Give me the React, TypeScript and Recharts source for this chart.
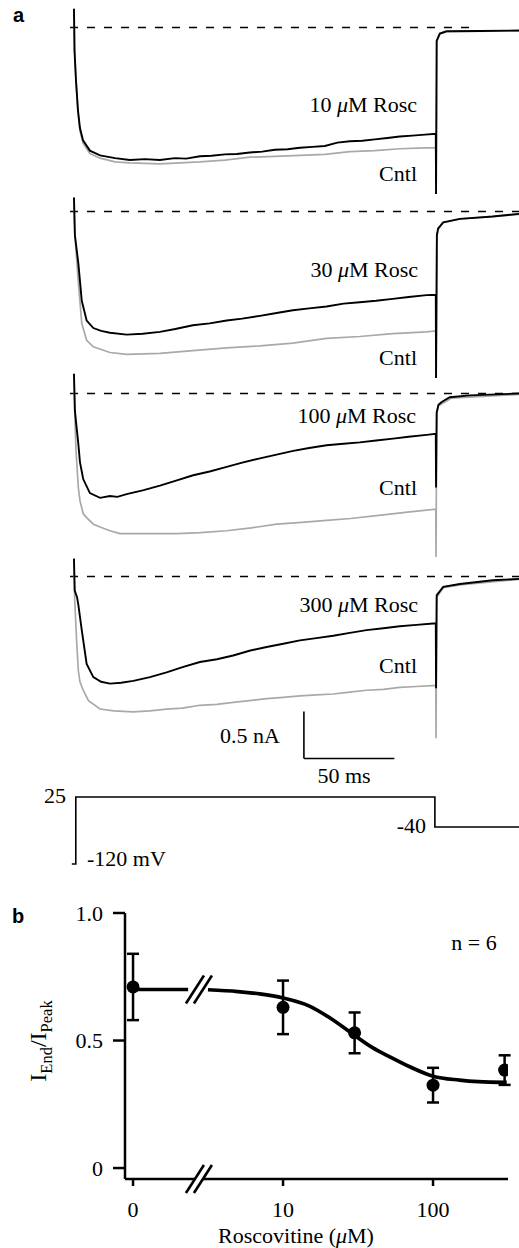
import React from 'react';
import {
  LineChart,
  ComposedChart,
  Line,
  Scatter,
  ErrorBar,
  XAxis,
  YAxis,
  ReferenceLine,
  ReferenceDot,
} from 'recharts';

// ---- panel a: current traces (t in ms, i in nA) ----
const rosc10 = [
  { t: 0, i: 0.2 }, { t: 0.3, i: -0.245 }, { t: 1.1, i: -0.56 }, { t: 2.2, i: -0.88 },
  { t: 3.3, i: -1.07 }, { t: 5, i: -1.2 }, { t: 8.8, i: -1.31 }, { t: 14.4, i: -1.36 },
  { t: 22.7, i: -1.39 }, { t: 30.9, i: -1.41 }, { t: 39.2, i: -1.4 }, { t: 47.5, i: -1.41 },
  { t: 55.8, i: -1.39 }, { t: 62, i: -1.395 }, { t: 69.6, i: -1.37 }, { t: 76, i: -1.365 },
  { t: 83.4, i: -1.35 }, { t: 90, i: -1.345 }, { t: 97.2, i: -1.33 }, { t: 104, i: -1.32 },
  { t: 111, i: -1.3 }, { t: 118, i: -1.295 }, { t: 124.9, i: -1.28 }, { t: 131.8, i: -1.27 },
  { t: 138.7, i: -1.26 }, { t: 145.6, i: -1.225 }, { t: 152.5, i: -1.21 }, { t: 159.4, i: -1.205 },
  { t: 166.3, i: -1.19 }, { t: 173.2, i: -1.175 }, { t: 180.1, i: -1.16 }, { t: 187, i: -1.15 },
  { t: 194, i: -1.14 }, { t: 200, i: -1.13 }, { t: 200.15, i: -1.77 }, { t: 200.5, i: -0.14 },
  { t: 202.2, i: -0.064 }, { t: 205.9, i: -0.04 }, { t: 224.3, i: -0.037 }, { t: 246, i: -0.032 },
];
const cntl10 = [
  { t: 0, i: 0.2 }, { t: 0.3, i: -0.245 }, { t: 1.1, i: -0.56 }, { t: 2.2, i: -0.9 },
  { t: 3.3, i: -1.1 }, { t: 5, i: -1.23 }, { t: 8.8, i: -1.34 }, { t: 14.4, i: -1.39 },
  { t: 22.7, i: -1.43 }, { t: 30.9, i: -1.44 }, { t: 47.5, i: -1.45 }, { t: 69.6, i: -1.43 },
  { t: 83.4, i: -1.41 }, { t: 97.2, i: -1.38 }, { t: 111, i: -1.37 }, { t: 124.9, i: -1.36 },
  { t: 138.7, i: -1.35 }, { t: 152.5, i: -1.32 }, { t: 166.3, i: -1.31 }, { t: 180.1, i: -1.29 },
  { t: 194, i: -1.28 }, { t: 200, i: -1.28 }, { t: 200.15, i: -1.77 }, { t: 200.5, i: -0.15 },
  { t: 202.2, i: -0.07 }, { t: 205.9, i: -0.045 }, { t: 246, i: -0.035 },
];
const rosc30 = [
  { t: 0, i: 0.15 }, { t: 0.5, i: -0.25 }, { t: 2.4, i: -0.55 }, { t: 4.3, i: -0.95 },
  { t: 7, i: -1.16 }, { t: 10.7, i: -1.24 }, { t: 15, i: -1.27 }, { t: 19.9, i: -1.29 },
  { t: 29.1, i: -1.31 }, { t: 38, i: -1.3 }, { t: 47.5, i: -1.28 }, { t: 56, i: -1.25 },
  { t: 65.7, i: -1.21 }, { t: 75, i: -1.19 }, { t: 84.4, i: -1.16 }, { t: 93, i: -1.14 },
  { t: 102.8, i: -1.11 }, { t: 112, i: -1.08 }, { t: 121, i: -1.05 }, { t: 130, i: -1.03 },
  { t: 139.6, i: -1.01 }, { t: 149, i: -0.98 }, { t: 158, i: -0.965 }, { t: 167, i: -0.95 },
  { t: 176.2, i: -0.93 }, { t: 185, i: -0.91 }, { t: 194.9, i: -0.89 }, { t: 200, i: -0.886 },
  { t: 200.15, i: -1.77 }, { t: 200.6, i: -0.25 }, { t: 201.3, i: -0.18 }, { t: 204.1, i: -0.115 },
  { t: 213.3, i: -0.078 }, { t: 231.5, i: -0.053 }, { t: 246, i: -0.025 },
];
const cntl30 = [
  { t: 0, i: 0.15 }, { t: 0.5, i: -0.25 }, { t: 2.4, i: -0.75 }, { t: 4.3, i: -1.19 },
  { t: 7, i: -1.37 }, { t: 10.7, i: -1.44 }, { t: 19.9, i: -1.5 }, { t: 29.1, i: -1.52 },
  { t: 47.5, i: -1.51 }, { t: 65.7, i: -1.48 }, { t: 84.4, i: -1.45 }, { t: 102.8, i: -1.43 },
  { t: 121, i: -1.4 }, { t: 139.6, i: -1.35 }, { t: 158, i: -1.33 }, { t: 176.2, i: -1.3 },
  { t: 194.9, i: -1.28 }, { t: 200, i: -1.27 }, { t: 200.15, i: -1.77 }, { t: 200.6, i: -0.27 },
  { t: 201.3, i: -0.19 }, { t: 204.1, i: -0.12 }, { t: 213.3, i: -0.08 }, { t: 246, i: -0.03 },
];
const rosc100 = [
  { t: 0, i: 0.21 }, { t: 0.5, i: -0.18 }, { t: 1.5, i: -0.37 }, { t: 2.4, i: -0.535 },
  { t: 3.3, i: -0.73 }, { t: 5.1, i: -0.91 }, { t: 8.8, i: -1.06 }, { t: 14.4, i: -1.11 },
  { t: 19.9, i: -1.09 }, { t: 24, i: -1.1 }, { t: 29.1, i: -1.07 }, { t: 38, i: -1.03 },
  { t: 47.5, i: -0.98 }, { t: 56, i: -0.93 }, { t: 65.9, i: -0.87 }, { t: 75, i: -0.83 },
  { t: 84.4, i: -0.78 }, { t: 93, i: -0.735 }, { t: 102.8, i: -0.69 }, { t: 112, i: -0.65 },
  { t: 121.2, i: -0.61 }, { t: 130, i: -0.58 }, { t: 139.6, i: -0.55 }, { t: 149, i: -0.535 },
  { t: 158, i: -0.52 }, { t: 167, i: -0.5 }, { t: 176.4, i: -0.48 }, { t: 185, i: -0.46 },
  { t: 194.9, i: -0.44 }, { t: 200, i: -0.43 }, { t: 200.15, i: -1.0 }, { t: 200.5, i: -0.2 },
  { t: 201.5, i: -0.12 }, { t: 203.1, i: -0.093 }, { t: 207.7, i: -0.04 }, { t: 218.8, i: -0.02 },
  { t: 246, i: 0 },
];
const cntl100 = [
  { t: 0, i: 0.21 }, { t: 0.5, i: -0.25 }, { t: 1.1, i: -0.6 }, { t: 2.4, i: -1.0 },
  { t: 3.3, i: -1.14 }, { t: 5.1, i: -1.28 }, { t: 7, i: -1.32 }, { t: 10.7, i: -1.39 },
  { t: 14.4, i: -1.42 }, { t: 19.9, i: -1.46 }, { t: 25.4, i: -1.49 }, { t: 38.3, i: -1.49 },
  { t: 56.7, i: -1.49 }, { t: 70, i: -1.48 }, { t: 84.4, i: -1.46 }, { t: 98, i: -1.43 },
  { t: 112, i: -1.39 }, { t: 126, i: -1.37 }, { t: 139.6, i: -1.35 }, { t: 153, i: -1.33 },
  { t: 167.2, i: -1.3 }, { t: 185.6, i: -1.26 }, { t: 200, i: -1.23 }, { t: 200.15, i: -1.74 },
  { t: 200.5, i: -0.22 }, { t: 201.5, i: -0.13 }, { t: 204.1, i: -0.1 }, { t: 208.5, i: -0.05 },
  { t: 246, i: -0.01 },
];
const rosc300 = [
  { t: 0, i: 0.19 }, { t: 0.4, i: -0.15 }, { t: 1.7, i: -0.22 }, { t: 2.4, i: -0.3 },
  { t: 4.3, i: -0.57 }, { t: 7, i: -0.93 }, { t: 10.7, i: -1.07 }, { t: 15, i: -1.12 },
  { t: 19.9, i: -1.14 }, { t: 26, i: -1.13 }, { t: 32.8, i: -1.11 }, { t: 42, i: -1.07 },
  { t: 51.2, i: -1.02 }, { t: 60, i: -0.965 }, { t: 69.6, i: -0.91 }, { t: 79, i: -0.88 },
  { t: 88, i: -0.84 }, { t: 97, i: -0.79 }, { t: 106.5, i: -0.75 }, { t: 115.7, i: -0.715 },
  { t: 124.9, i: -0.68 }, { t: 134, i: -0.655 }, { t: 143.3, i: -0.63 }, { t: 152.5, i: -0.6 },
  { t: 161.7, i: -0.57 }, { t: 171, i: -0.55 }, { t: 180.1, i: -0.53 }, { t: 189.3, i: -0.515 },
  { t: 198.5, i: -0.5 }, { t: 200, i: -0.5 }, { t: 200.15, i: -1.19 }, { t: 200.5, i: -0.2 },
  { t: 201.3, i: -0.18 }, { t: 204.1, i: -0.11 }, { t: 213.3, i: -0.08 }, { t: 231.5, i: -0.04 },
  { t: 246, i: -0.025 },
];
const cntl300 = [
  { t: 0, i: 0.19 }, { t: 0.4, i: -0.25 }, { t: 1.5, i: -0.7 }, { t: 2.4, i: -1.0 },
  { t: 3.3, i: -1.12 }, { t: 5.1, i: -1.21 }, { t: 8, i: -1.32 }, { t: 14.4, i: -1.41 },
  { t: 22, i: -1.43 }, { t: 32.8, i: -1.44 }, { t: 42, i: -1.43 }, { t: 51.2, i: -1.41 },
  { t: 60, i: -1.4 }, { t: 69.6, i: -1.37 }, { t: 79, i: -1.36 }, { t: 88, i: -1.34 },
  { t: 97, i: -1.32 }, { t: 106.5, i: -1.3 }, { t: 115.7, i: -1.285 }, { t: 124.9, i: -1.27 },
  { t: 134, i: -1.26 }, { t: 143.3, i: -1.25 }, { t: 152.5, i: -1.23 }, { t: 161.7, i: -1.21 },
  { t: 171, i: -1.2 }, { t: 180.1, i: -1.18 }, { t: 189.3, i: -1.17 }, { t: 198.5, i: -1.16 },
  { t: 200, i: -1.16 }, { t: 200.15, i: -1.72 }, { t: 200.5, i: -0.22 }, { t: 201.3, i: -0.2 },
  { t: 204.1, i: -0.12 }, { t: 213.3, i: -0.09 }, { t: 246, i: -0.03 },
];

// voltage protocol (mV)
const protocol = [
  { t: -1.2, v: -120 }, { t: 1, v: -120 }, { t: 1, v: 25 },
  { t: 199.5, v: 25 }, { t: 199.5, v: -40 }, { t: 246, v: -40 },
];

// ---- panel b: I_End / I_Peak vs roscovitine (0 plotted at 1) ----
const meanPoints = [
  { c: 1, r: 0.71, err: 0.13 },
  { c: 10, r: 0.63, err: 0.105 },
  { c: 30, r: 0.53, err: 0.08 },
  { c: 100, r: 0.325, err: 0.068 },
  { c: 300, r: 0.384, err: 0.058 },
];
const fitCurve = [
  { c: 1, r: 0.7 }, { c: 1.6, r: 0.7 }, { c: 2.33, r: 0.7 }, { c: 2.75, r: null },
  { c: 3.16, r: 0.699 }, { c: 5, r: 0.692 }, { c: 7, r: 0.683 }, { c: 10, r: 0.667 },
  { c: 15, r: 0.635 }, { c: 20, r: 0.593 }, { c: 30, r: 0.52 }, { c: 40, r: 0.47 },
  { c: 50, r: 0.44 }, { c: 70, r: 0.397 }, { c: 100, r: 0.36 }, { c: 150, r: 0.345 },
  { c: 200, r: 0.339 }, { c: 310, r: 0.336 },
];
const yTicks = [0, 0.5, 1];
const xTicks = [1, 10, 100];

const SERIF = '"Liberation Serif", "Times New Roman", serif';
const PX_PER_NA = 94;
const I_MIN = -2;
const I_MAX = 0.25;
const T_DOMAIN: [number, number] = [-2.2, 246];

const TracePanel = ({ baseY, rosc, cntl, dashEnd, children }: any) => (
  <div style={{ position: 'absolute', left: 0, top: baseY - I_MAX * PX_PER_NA }}>
    <LineChart
      width={519}
      height={(I_MAX - I_MIN) * PX_PER_NA}
      margin={{ top: 0, right: 0, bottom: 0, left: 70 }}
    >
      <XAxis type="number" dataKey="t" domain={T_DOMAIN} hide allowDataOverflow />
      <YAxis type="number" dataKey="i" domain={[I_MIN, I_MAX]} hide allowDataOverflow />
      <ReferenceLine
        segment={[{ x: -2.2, y: 0 }, { x: dashEnd, y: 0 }]}
        stroke="#000"
        strokeWidth={1.6}
        strokeDasharray="8 9"
      />
      <Line data={cntl} dataKey="i" type="linear" stroke="#a9a9a9" strokeWidth={1.7} dot={false} isAnimationActive={false} />
      <Line data={rosc} dataKey="i" type="linear" stroke="#000" strokeWidth={1.9} dot={false} isAnimationActive={false} />
      {children}
    </LineChart>
  </div>
);

const BreakMark = (props: any) => {
  const { cx, cy } = props;
  return (
    <g>
      <polygon
        points={`${cx - 13},${cy + 14} ${cx + 5},${cy - 14} ${cx + 13},${cy - 14} ${cx - 5},${cy + 14}`}
        fill="#fff"
      />
      <line x1={cx - 13} y1={cy + 14} x2={cx + 5} y2={cy - 14} stroke="#000" strokeWidth={2.6} />
      <line x1={cx - 5} y1={cy + 14} x2={cx + 13} y2={cy - 14} stroke="#000" strokeWidth={2.6} />
    </g>
  );
};

const MeanDot = (props: any) => <circle cx={props.cx} cy={props.cy} r={6.5} fill="#000" />;

const Mu = () => <tspan fontStyle="italic">μ</tspan>;

const App = () => {
  return (
    <div style={{ position: 'absolute', left: 0, top: 0, width: 519, height: 1248, background: '#fff' }}>
      <TracePanel baseY={27} rosc={rosc10} cntl={cntl10} dashEnd={222} />
      <TracePanel baseY={211} rosc={rosc30} cntl={cntl30} dashEnd={246} />
      <TracePanel baseY={393} rosc={rosc100} cntl={cntl100} dashEnd={246} />
      <TracePanel baseY={576} rosc={rosc300} cntl={cntl300} dashEnd={246}>
        <ReferenceLine segment={[{ x: 127.1, y: -1.936 }, { x: 127.1, y: -1.436 }]} stroke="#000" strokeWidth={1.6} />
        <ReferenceLine segment={[{ x: 127.1, y: -1.936 }, { x: 177.1, y: -1.936 }]} stroke="#000" strokeWidth={1.6} />
      </TracePanel>

      <div style={{ position: 'absolute', left: 0, top: 790 }}>
        <LineChart width={519} height={80} margin={{ top: 0, right: 0, bottom: 0, left: 70 }}>
          <XAxis type="number" dataKey="t" domain={T_DOMAIN} hide allowDataOverflow />
          <YAxis type="number" dataKey="v" domain={[-133, 40]} hide allowDataOverflow />
          <Line data={protocol} dataKey="v" type="linear" stroke="#000" strokeWidth={1.6} dot={false} isAnimationActive={false} />
        </LineChart>
      </div>

      <div style={{ position: 'absolute', left: 0, top: 900 }}>
        <ComposedChart width={519} height={340} margin={{ top: 13, right: 11, bottom: 21, left: 65 }}>
          <XAxis
            type="number"
            dataKey="c"
            scale="log"
            domain={[0.884, 316]}
            allowDataOverflow
            ticks={xTicks}
            tickFormatter={(v: number) => (v === 1 ? '0' : String(v))}
            height={40}
            tickSize={7}
            tickMargin={15}
            axisLine={{ stroke: '#000', strokeWidth: 2.5 }}
            tickLine={{ stroke: '#000', strokeWidth: 2.5 }}
            tick={{ fill: '#000', fontSize: 22, fontFamily: SERIF }}
          />
          <YAxis
            type="number"
            dataKey="r"
            domain={[-0.043, 1]}
            allowDataOverflow
            ticks={yTicks}
            tickFormatter={(v: number) => (v === 0 ? '0' : v.toFixed(1))}
            width={60}
            tickSize={12}
            tickMargin={10}
            axisLine={{ stroke: '#000', strokeWidth: 2.5 }}
            tickLine={{ stroke: '#000', strokeWidth: 2.5 }}
            tick={{ fill: '#000', fontSize: 22, fontFamily: SERIF }}
          />
          <Line data={fitCurve} dataKey="r" type="monotone" stroke="#000" strokeWidth={3.7} dot={false} isAnimationActive={false} />
          <Scatter data={meanPoints} dataKey="r" shape={MeanDot} isAnimationActive={false}>
            <ErrorBar dataKey="err" direction="y" width={6} stroke="#000" strokeWidth={2.5} />
          </Scatter>
          <ReferenceDot x={2.75} y={-0.043} r={0} ifOverflow="visible" shape={BreakMark} />
          <ReferenceDot x={2.75} y={0.7} r={0} ifOverflow="visible" shape={BreakMark} />
        </ComposedChart>
      </div>

      <svg
        width={519}
        height={1248}
        style={{ position: 'absolute', left: 0, top: 0, pointerEvents: 'none' }}
        fontFamily={SERIF}
        fontSize={22}
        fill="#000"
      >
        <text x={13} y={22} fontFamily='"Liberation Sans", Arial, sans-serif' fontWeight="bold" fontSize={20}>a</text>
        <text x={12} y={923} fontFamily='"Liberation Sans", Arial, sans-serif' fontWeight="bold" fontSize={20}>b</text>

        <text x={417} y={112} textAnchor="end">10 <Mu />M Rosc</text>
        <text x={417} y={181} textAnchor="end">Cntl</text>
        <text x={418} y={277} textAnchor="end">30 <Mu />M Rosc</text>
        <text x={417} y={365} textAnchor="end">Cntl</text>
        <text x={416} y={423} textAnchor="end">100 <Mu />M Rosc</text>
        <text x={417} y={495} textAnchor="end">Cntl</text>
        <text x={418} y={612} textAnchor="end">300 <Mu />M Rosc</text>
        <text x={417} y={673} textAnchor="end">Cntl</text>

        <text x={280} y={743} textAnchor="end">0.5 nA</text>
        <text x={344} y={783} textAnchor="middle">50 ms</text>

        <text x={66} y={803} textAnchor="end">25</text>
        <text x={87} y={866} textAnchor="start">-120 mV</text>
        <text x={426} y={833} textAnchor="end">-40</text>

        <text x={474} y={950} textAnchor="middle">n = 6</text>
        <text transform="translate(46,1041) rotate(-90)" textAnchor="middle" fontSize={24}>
          I<tspan fontSize={16.5} dy={6}>End</tspan>
          <tspan dy={-6}>/I</tspan>
          <tspan fontSize={16.5} dy={6}>Peak</tspan>
        </text>
        <text x={296} y={1243} textAnchor="middle">Roscovitine (<Mu />M)</text>
      </svg>
    </div>
  );
};

export default App;
